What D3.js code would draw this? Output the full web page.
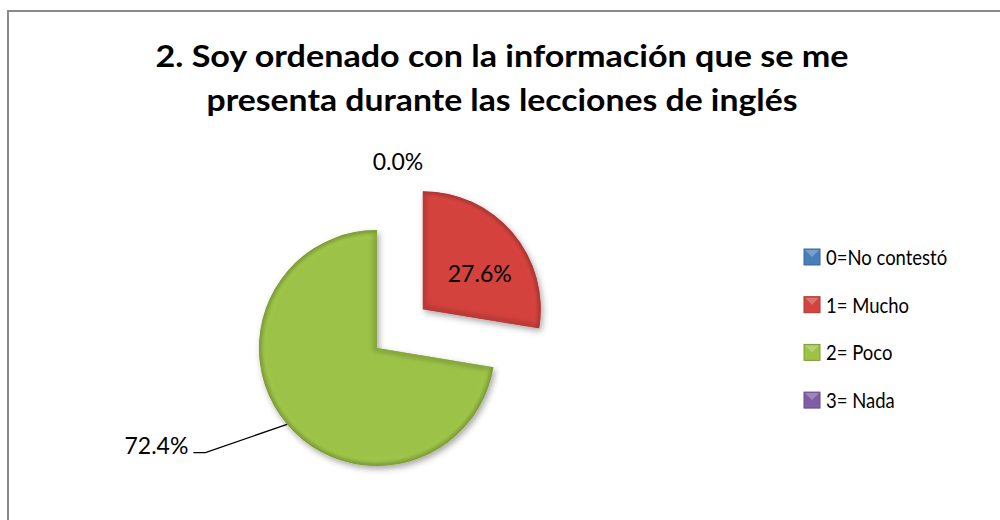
<!DOCTYPE html>
<html>
<head>
<meta charset="utf-8">
<script src="https://cdn.jsdelivr.net/npm/d3@7"></script>
<style>
  body { margin: 0; background: #fff; }
  text { font-family: Lato, "Liberation Sans", sans-serif; }
</style>
</head>
<body>
<div id="chart"></div>
<script>
// chart data
const categories = ["0=No contestó", "1= Mucho", "2= Poco", "3= Nada"];
const percents = [0.0, 27.6, 72.4, 0.0];
const explodedSlices = ["1= Mucho"];
const titleLines = ["2. Soy ordenado con la información que se me", "presenta durante las lecciones de inglés"];

const width = 1000, height = 520;

const svg = d3.select("#chart")
    .append("svg")
    .attr("width", width)
    .attr("height", height);

// frame of the chart area (only left and top visible)
svg.append("path")
    .attr("d", "M8,520 V11 H1000")
    .attr("fill", "none")
    .attr("stroke", "#8a8a8a")
    .attr("stroke-width", 2);

// title
const title = svg.append("text")
    .attr("text-anchor", "middle")
    .style("font-size", "31px")
    .style("font-weight", "bold")
    .attr("fill", "#000");
const titleWidths = [693, 591];
titleLines.forEach((t, i) => {
    title.append("tspan")
        .attr("x", 502)
        .attr("y", 67 + i * 44)
        .attr("textLength", titleWidths[i])
        .attr("lengthAdjust", "spacingAndGlyphs")
        .text(t);
});

// colours
const color = d3.scaleOrdinal()
    .domain(categories)
    .range(["#4a7ebb", "#d4433e", "#9cc246", "#7e5fa6"]);

const defs = svg.append("defs");

// soft drop shadow
const shadow = defs.append("filter").attr("id", "shadow")
    .attr("x", "-20%").attr("y", "-20%").attr("width", "140%").attr("height", "140%");
shadow.append("feDropShadow")
    .attr("dx", 2).attr("dy", 3).attr("stdDeviation", 3)
    .attr("flood-color", "#000").attr("flood-opacity", 0.35);

// blur used for the bevelled edge
defs.append("filter").attr("id", "edgeBlur")
    .append("feGaussianBlur").attr("stdDeviation", 2.2);

// pie layout
const data = categories.map((c, i) => ({ key: c, value: percents[i] }));
const pie = d3.pie().sort(null).value(d => d.value);
const arcs = pie(data);

const cx = 377, cy = 348, radius = 118, explodeDist = 60;
const arc = d3.arc().innerRadius(0).outerRadius(radius);

const midAngle = d => (d.startAngle + d.endAngle) / 2;
const offsetOf = d => explodedSlices.includes(d.data.key)
    ? d3.pointRadial(midAngle(d), explodeDist) : [0, 0];

const pieG = svg.append("g").attr("transform", `translate(${cx},${cy})`);

const slices = pieG.selectAll("g.slice")
    .data(arcs.filter(d => d.value > 0))
    .join("g")
    .attr("class", "slice")
    .attr("transform", d => `translate(${offsetOf(d)})`);

slices.each(function(d, i) {
    const g = d3.select(this);
    const c = d3.color(color(d.data.key));
    const id = "clip" + i;
    defs.append("clipPath").attr("id", id).append("path").attr("d", arc(d));

    g.append("path")
        .attr("d", arc(d))
        .attr("fill", c.formatHex())
        .attr("filter", "url(#shadow)");

    // darker bevel along the edges
    g.append("path")
        .attr("d", arc(d))
        .attr("clip-path", `url(#${id})`)
        .attr("fill", "none")
        .attr("stroke", c.darker(0.7).formatHex())
        .attr("stroke-width", 7)
        .attr("filter", "url(#edgeBlur)");

    // light highlight just inside the rim
    g.append("path")
        .attr("d", d3.arc().innerRadius(0).outerRadius(radius - 5)(d))
        .attr("clip-path", `url(#${id})`)
        .attr("fill", "none")
        .attr("stroke", c.brighter(0.5).formatHex())
        .attr("stroke-opacity", 0.5)
        .attr("stroke-width", 2)
        .attr("filter", "url(#edgeBlur)");
});

// data labels
const fmt = d => d.toFixed(1) + "%";
const labelG = pieG.append("g").style("font-size", "23px").attr("fill", "#000");

arcs.forEach(d => {
    const off = offsetOf(d);
    if (d.data.key === "0=No contestó") {
        const p = d3.pointRadial(midAngle(d), radius + explodeDist + 8);
        labelG.append("text")
            .attr("x", p[0] + 21 + off[0])
            .attr("y", p[1] + 8 + off[1])
            .attr("text-anchor", "middle")
            .text(fmt(d.data.value));
    } else if (d.data.key === "1= Mucho") {
        const p = arc.centroid(d);
        labelG.append("text")
            .attr("x", p[0] + off[0] + 12)
            .attr("y", p[1] + off[1] + 11)
            .attr("text-anchor", "middle")
            .text(fmt(d.data.value));
    } else if (d.data.key === "2= Poco") {
        // leader line: from the rim, out to the label, then a short horizontal tail
        const a = midAngle(d);
        const p0 = d3.pointRadial(a, radius);
        const p1 = d3.pointRadial(a + 0.156, radius + 83);
        const p2 = [p1[0] - 12, p1[1]];
        labelG.append("path")
            .attr("d", d3.line()([p0, p1, p2]))
            .attr("fill", "none")
            .attr("stroke", "#000")
            .attr("stroke-width", 1.3);
        labelG.append("text")
            .attr("x", p2[0] - 5)
            .attr("y", p2[1] + 1)
            .attr("text-anchor", "end")
            .text(fmt(d.data.value));
    }
});

// legend
const legend = svg.append("g").attr("transform", "translate(804,257)");
const items = legend.selectAll("g")
    .data(categories)
    .join("g")
    .attr("transform", (d, i) => `translate(0,${i * 47.7})`);

items.append("rect")
    .attr("x", 0).attr("y", -8)
    .attr("width", 16).attr("height", 16)
    .attr("fill", d => color(d))
    .attr("stroke", d => d3.color(color(d)).darker(0.6))
    .attr("stroke-width", 1);

items.append("path")
    .attr("d", "M1,-7 L8,0 L15,-7 Z")
    .attr("fill", "#fff")
    .attr("fill-opacity", 0.25);

items.append("text")
    .attr("x", 22)
    .attr("y", 8)
    .style("font-size", "22px")
    .text(d => d)
    .each(function() {
        // Calibri-like narrower setting
        const w = this.getComputedTextLength();
        d3.select(this)
            .attr("textLength", w * 0.84)
            .attr("lengthAdjust", "spacingAndGlyphs");
    });
</script>
</body>
</html>
